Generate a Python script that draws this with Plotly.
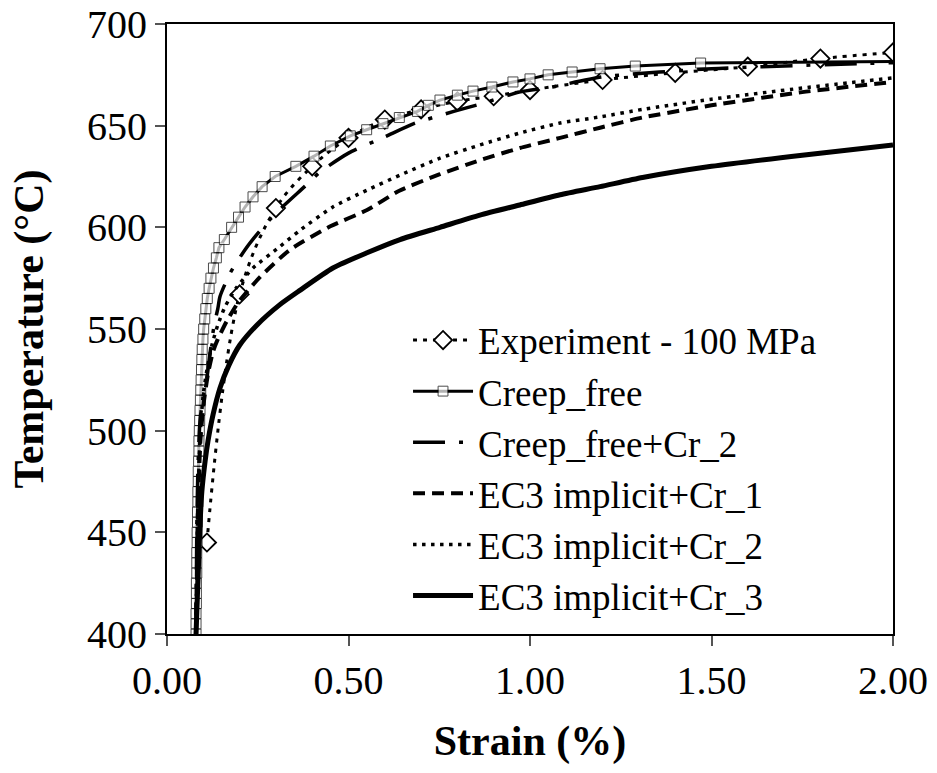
import plotly.graph_objects as go

# Experiment - 100 MPa
exp_strain = [0.11, 0.20, 0.30, 0.40, 0.50, 0.60, 0.70, 0.80, 0.90, 1.00,
              1.20, 1.40, 1.60, 1.80, 2.00]
exp_temp = [445, 567, 609.5, 630, 644, 653, 658, 662, 664.5, 667.5,
            672.5, 676, 679, 683, 686]

# Creep_free
cf_strain = [0.080, 0.080, 0.080, 0.081, 0.081, 0.081, 0.082, 0.082, 0.082, 0.083,
             0.083, 0.084, 0.084, 0.085, 0.085, 0.086, 0.086, 0.087, 0.088, 0.088,
             0.089, 0.090, 0.091, 0.092, 0.093, 0.094, 0.095, 0.096, 0.097, 0.099,
             0.101, 0.104, 0.107, 0.111, 0.116, 0.121, 0.128, 0.136, 0.143, 0.158,
             0.178, 0.197, 0.215, 0.237, 0.262, 0.298, 0.355, 0.405, 0.450, 0.505,
             0.550, 0.595, 0.640, 0.690, 0.720, 0.752, 0.800, 0.843, 0.895, 0.953,
             1.000, 1.050, 1.116, 1.193, 1.290, 1.470, 2.000]
cf_temp = [400, 405, 410, 415, 420, 425, 430, 435, 440, 445,
           450, 455, 460, 465, 470, 475, 480, 485, 490, 495,
           500, 505, 510, 515, 520, 525, 530, 535, 540, 545,
           550, 555, 560, 565, 570, 575, 580, 585, 590, 594,
           600, 605, 610, 615, 620, 625, 630, 635, 640, 645,
           648, 651, 654, 657, 660, 662.6, 665, 667, 669, 671.5,
           673, 675, 676.4, 678, 679.3, 680.8, 681.5]

# Creep_free+Cr_2
cf2_strain = [0.080, 0.082, 0.085, 0.091, 0.100, 0.110, 0.120, 0.130, 0.140, 0.146,
              0.174, 0.215, 0.250, 0.300, 0.385, 0.420, 0.500, 0.600, 0.680, 0.790,
              0.870, 0.970, 1.060, 1.200, 1.500, 2.000]
cf2_temp = [400, 450, 480, 505, 517, 526, 540, 552, 560, 566,
            577.5, 589, 597, 607, 621, 627, 636.5, 644.5, 651, 657,
            661, 666.5, 669, 674, 678, 681]

# EC3 implicit+Cr_1
cr1_strain = [0.080, 0.085, 0.092, 0.100, 0.113, 0.127, 0.140, 0.165, 0.196, 0.256,
              0.339, 0.450, 0.551, 0.640, 0.750, 0.862, 0.972, 1.083, 1.193, 1.310,
              1.500, 1.750, 2.000]
cr1_temp = [400, 460, 495, 512, 528, 539, 545, 554, 563, 575.5,
            589, 600.5, 608.5, 618, 626, 633, 639, 644, 649, 654,
            660, 666.5, 671.5]

# EC3 implicit+Cr_2
cr2_strain = [0.080, 0.085, 0.092, 0.100, 0.112, 0.125, 0.140, 0.160, 0.190, 0.237,
              0.311, 0.366, 0.457, 0.551, 0.642, 0.752, 0.862, 0.972, 1.083, 1.193,
              1.310, 1.500, 1.750, 2.000]
cr2_temp = [400, 465, 500, 518, 532, 543, 552, 561, 570, 580,
            590.5, 598.5, 610, 618.3, 625.7, 634, 640.5, 646.4, 651.3, 654.3,
            658, 663, 668.5, 673.5]

# EC3 implicit+Cr_3
cr3_strain = [0.080, 0.090, 0.096, 0.105, 0.113, 0.127, 0.146, 0.170, 0.200, 0.248,
              0.311, 0.366, 0.457, 0.551, 0.642, 0.752, 0.862, 0.972, 1.083, 1.193,
              1.310, 1.500, 1.750, 2.000]
cr3_temp = [400, 450, 470, 485, 495, 508, 521, 532, 542, 552,
            562, 569, 580, 587.5, 594, 600, 606, 611, 616, 620,
            624.5, 630, 635.5, 640.5]

FONT = "Liberation Serif, Times New Roman, serif"

fig = go.Figure()

fig.add_trace(go.Scatter(
    x=exp_strain, y=exp_temp, name="Experiment - 100 MPa",
    mode="lines+markers", line=dict(color="black", width=3, dash="4px,6px", shape="spline"),
    marker=dict(symbol="diamond", size=14, color="white", line=dict(color="black", width=1.8)),
))
fig.add_trace(go.Scatter(
    x=cf_strain, y=cf_temp, name="Creep_free",
    mode="lines+markers", line=dict(color="black", width=3),
    marker=dict(symbol="square", size=[10] * (len(cf_strain) - 1) + [0], color="white",
                line=dict(color="black", width=1)),
))
fig.add_trace(go.Scatter(
    x=cf2_strain, y=cf2_temp, name="Creep_free+Cr_2",
    mode="lines", line=dict(color="black", width=3.5, dash="32px,14px,4px,14px",
                            shape="spline", smoothing=0.6),
))
fig.add_trace(go.Scatter(
    x=cr1_strain, y=cr1_temp, name="EC3 implicit+Cr_1",
    mode="lines", line=dict(color="black", width=4, dash="12px,7px",
                            shape="spline", smoothing=0.6),
))
fig.add_trace(go.Scatter(
    x=cr2_strain, y=cr2_temp, name="EC3 implicit+Cr_2",
    mode="lines", line=dict(color="black", width=3.5, dash="3.5px,5.5px",
                            shape="spline", smoothing=0.6),
))
fig.add_trace(go.Scatter(
    x=cr3_strain, y=cr3_temp, name="EC3 implicit+Cr_3",
    mode="lines", line=dict(color="black", width=5, shape="spline", smoothing=0.6),
))

axis_common = dict(
    showline=True, linecolor="black", linewidth=2, mirror=True,
    ticks="outside", ticklen=10, tickwidth=1.5, tickcolor="#555",
    showgrid=False, zeroline=False, ticklabeloverflow="allow", automargin=False,
    tickfont=dict(family=FONT, size=40, color="black"),
)

fig.update_xaxes(
    range=[0, 2], tick0=0, dtick=0.5, tickformat=".2f",
    title=dict(text="<b>Strain (%)</b>", font=dict(family=FONT, size=42, color="black"),
               standoff=24),
    **axis_common,
)
fig.update_yaxes(
    range=[400, 700], tick0=400, dtick=50,
    title=dict(text="<b>Temperature (°C)</b>", font=dict(family=FONT, size=42, color="black"),
               standoff=30),
    **axis_common,
)

fig.update_layout(
    width=937, height=773,
    margin=dict(l=167, r=44, t=24, b=139),
    plot_bgcolor="white", paper_bgcolor="white",
    font=dict(family=FONT, color="black"),
    legend=dict(x=0.332, y=0.532, xanchor="left", yanchor="top",
                itemwidth=60,
                font=dict(family=FONT, size=37, color="black"),
                bgcolor="rgba(0,0,0,0)"),
    showlegend=True,
)

# drop the default 8px page margin so the figure fills the window exactly
fig.write_html("out.html", config={"displayModeBar": False},
               post_script="document.body.style.margin='0';")
